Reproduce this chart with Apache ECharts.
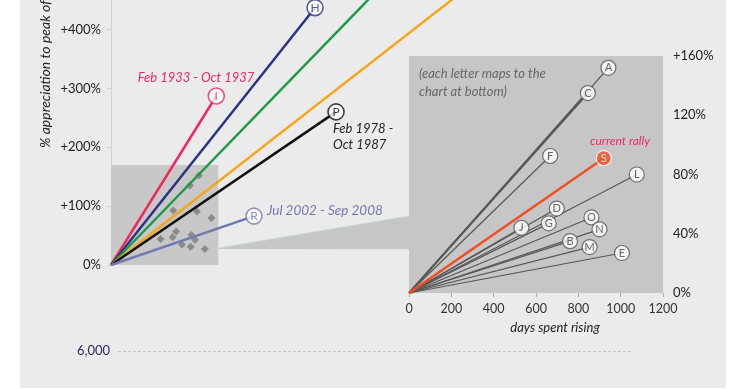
<!DOCTYPE html>
<html>
<head>
<meta charset="utf-8">
<script src="https://cdn.jsdelivr.net/npm/echarts@6/dist/echarts.min.js"></script>
<style>html,body{margin:0;padding:0;background:#fff;}#c{width:740px;height:389px;}</style>
</head>
<body>
<div id="c"></div>
<script>
// ---- data ----
const mainNames = ['I', 'H', '', '', 'P', 'R'];
const mainDays  = [1128, 2186, 2900, 3900, 2411, 1532];
const mainPct   = [287, 437, 474, 481, 260, 83];
const mainYLabels = ['0%', '+100%', '+200%', '+300%', '+400%'];

const insetLetters = ['A', 'C', 'F', 'L', 'D', 'O', 'G', 'J', 'N', 'B', 'M', 'E'];
const insetDays    = [942, 845, 667, 1076, 698, 862, 660, 531, 900, 761, 853, 1006];
const insetPct     = [152, 135, 92.5, 80, 57, 51, 47, 44, 43, 35, 31, 27];
const currentName = 'S';
const currentDays = 920;
const currentPct  = 91;
const insetYLabels = ['0%', '40%', '80%', '120%', '+160%'];

const bottomYLabel = 6000;

// ---- styles ----
const mainColors = ['#ec2b5c', '#2e3282', '#1f9a48', '#f5a61e', '#111111', '#7378b2'];
const FONT = 'Lato, "Open Sans", sans-serif';
const INSET_BG = '#c6c6c6';

const chart = echarts.init(document.getElementById('c'), null, {renderer: 'canvas'});

const series = [];
// main lines
mainNames.forEach((n, i) => {
  series.push({
    type: 'line', xAxisIndex: 0, yAxisIndex: 0, z: 3,
    data: [[0, 0], [mainDays[i], mainPct[i]]],
    symbol: 'none', clip: true,
    lineStyle: {color: mainColors[i], width: 2.5},
    silent: true, animation: false
  });
});
// diamonds + box in main chart
series.push({
  type: 'scatter', xAxisIndex: 0, yAxisIndex: 0, z: 2,
  symbol: 'diamond', symbolSize: 8,
  itemStyle: {color: '#7c7c7c'},
  data: insetDays.map((d, i) => [d, insetPct[i]]).concat([[currentDays, currentPct]]),
  markArea: {
    silent: true,
    itemStyle: {color: '#c8c8c8'},
    data: [[{coord: [0, 0]}, {coord: [1150, 170]}]]
  },
  animation: false
});
// main end circles
series.push({
  type: 'scatter', xAxisIndex: 0, yAxisIndex: 0, z: 5,
  symbol: 'circle', symbolSize: 16,
  data: mainNames.map((n, i) => ({
    value: [mainDays[i], mainPct[i]], name: n,
    itemStyle: {color: '#fff', borderColor: mainColors[i], borderWidth: 1.6},
    label: {color: mainColors[i]}
  })).filter(d => d.name !== ''),
  label: {show: true, position: 'inside', formatter: p => p.name, fontSize: 12, fontFamily: FONT},
  animation: false
});
// inset lines
insetLetters.forEach((n, i) => {
  series.push({
    type: 'line', xAxisIndex: 1, yAxisIndex: 1, z: 3,
    data: [[0, 0], [insetDays[i], insetPct[i]]],
    symbol: 'none',
    lineStyle: {color: '#565656', width: n === 'C' ? 2 : 1.2},
    silent: true, animation: false
  });
});
series.push({
  type: 'line', xAxisIndex: 1, yAxisIndex: 1, z: 4,
  data: [[0, 0], [currentDays, currentPct]],
  symbol: 'none',
  lineStyle: {color: '#f04e23', width: 2.5},
  silent: true, animation: false
});
// inset circles
series.push({
  type: 'scatter', xAxisIndex: 1, yAxisIndex: 1, z: 5,
  symbol: 'circle', symbolSize: 15,
  data: insetLetters.map((n, i) => ({
    value: [insetDays[i], insetPct[i]], name: n
  })).concat([{
    value: [currentDays, currentPct], name: currentName,
    itemStyle: {color: '#f04e23', borderColor: '#ffffff', borderWidth: 1.3},
    label: {color: '#ffffff'}
  }]),
  itemStyle: {color: '#ffffff', borderColor: '#555555', borderWidth: 1.2},
  label: {show: true, position: 'inside', formatter: p => p.name, fontSize: 11, color: '#444', fontFamily: FONT},
  animation: false
});
// bottom chart placeholder
series.push({type: 'line', xAxisIndex: 2, yAxisIndex: 2, data: [], symbol: 'none'});

const option = {
  backgroundColor: '#ffffff',
  animation: false,
  grid: [
    {left: 111, right: 69, top: 0, bottom: 124},
    {left: 409, right: 77, top: 56, bottom: 96, show: true, backgroundColor: INSET_BG, borderWidth: 0, z: 1},
    {left: 118, right: 108, top: 351, height: 300}
  ],
  xAxis: [
    {type: 'value', gridIndex: 0, min: 0, max: 6000, show: false},
    {type: 'value', gridIndex: 1, min: 0, max: 1200, interval: 200,
      axisLine: {show: false},
      axisTick: {show: true, length: 4, lineStyle: {color: '#b0b0b0'}},
      splitLine: {show: false},
      axisLabel: {margin: 9, fontSize: 12.5, color: '#333', fontFamily: FONT, formatter: v => String(v)},
      name: 'days spent rising', nameLocation: 'middle', nameGap: 28,
      nameTextStyle: {fontSize: 13, fontStyle: 'italic', color: '#222', fontFamily: FONT, padding: [0, 0, 0, 38]}
    },
    {type: 'value', gridIndex: 2, min: 0, max: 1, show: false}
  ],
  yAxis: [
    {type: 'value', gridIndex: 0, min: 0, max: 450, interval: 100,
      axisLine: {show: true, lineStyle: {color: '#c9d6cf', width: 1}},
      axisTick: {show: true, length: 4, lineStyle: {color: '#c9d6cf'}},
      splitLine: {show: false},
      axisLabel: {margin: 10, fontSize: 13, color: '#222', fontFamily: FONT, showMaxLabel: false,
        formatter: v => (v % 100 === 0 && mainYLabels[v / 100] !== undefined) ? mainYLabels[v / 100] : ''}
    },
    {type: 'value', gridIndex: 1, min: 0, max: 160, interval: 20, position: 'right',
      axisLine: {show: false},
      axisTick: {show: true, length: 4, lineStyle: {color: '#b0b0b0'}},
      splitLine: {show: false},
      axisLabel: {margin: 10, fontSize: 13, color: '#222', fontFamily: FONT,
        formatter: v => (v % 40 === 0 && insetYLabels[v / 40] !== undefined) ? insetYLabels[v / 40] : ''}
    },
    {type: 'value', gridIndex: 2, min: 0, max: bottomYLabel, interval: bottomYLabel,
      axisLine: {show: false}, axisTick: {show: false},
      splitLine: {show: true, lineStyle: {color: '#b9cfc4', type: [3, 2], width: 1}},
      axisLabel: {margin: 8, fontSize: 13, color: '#2b2d5e', fontFamily: FONT, showMinLabel: false,
        formatter: v => v.toLocaleString('en-US')}
    }
  ],
  series: series
};
chart.setOption(option);

// connector wedge between the small box and the inset
const a = chart.convertToPixel({gridIndex: 0}, [1150, 28.7]);
const b = chart.convertToPixel({gridIndex: 1}, [0, 52]);
const c = chart.convertToPixel({gridIndex: 1}, [0, 29.5]);
const d = chart.convertToPixel({gridIndex: 0}, [1150, 27]);

const italic = (text, x, y, color, size, align) => ({
  type: 'text', x: x, y: y, z: 10,
  style: {text: text, fill: color, font: 'italic ' + (size || 13) + 'px ' + FONT,
    textAlign: align || 'left', textVerticalAlign: 'middle'}
});

chart.setOption({
  graphic: [
    {type: 'rect', z: -100, shape: {x: 20, y: 0, width: 706, height: 388}, style: {fill: '#ebebeb'}},
    {type: 'polygon', z: -50, shape: {points: [a, b, c, d]}, style: {fill: INSET_BG}},
    {type: 'polyline', z: -49, shape: {points: [a, b]}, style: {stroke: '#c8dbd2', lineWidth: 1, fill: null}},
    {type: 'text', x: 45, y: 148, rotation: Math.PI / 2, z: 10,
      style: {text: '% appreciation to peak of rally', fill: '#222', font: 'italic 14px ' + FONT,
        textAlign: 'left', textVerticalAlign: 'middle'}},
    italic('Feb 1933 - Oct 1937', 196, 78, '#ec2b5c', 13, 'center'),
    italic('Feb 1978 -', 333, 129, '#222', 13),
    italic('Oct 1987', 333, 145, '#222', 13),
    italic('Jul 2002 - Sep 2008', 267, 211, '#7378b2', 13.5),
    italic('current rally', 620, 141, '#ee2a66', 12, 'center'),
    italic('(each letter maps to the', 419, 74, '#666', 13),
    italic('chart at bottom)', 419, 92, '#666', 13)
  ]
});
</script>
</body>
</html>
